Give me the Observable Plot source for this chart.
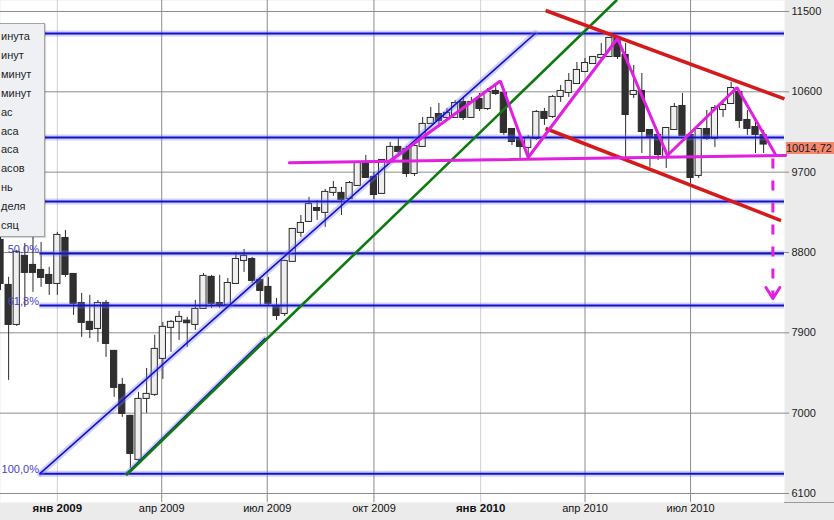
<!DOCTYPE html>
<html>
<head>
<meta charset="utf-8">
<script src="https://cdn.jsdelivr.net/npm/d3@7"></script>
<script src="https://cdn.jsdelivr.net/npm/@observablehq/plot@0.6"></script>
<style>
  body { margin: 0; background: #ffffff; }
  #wrap { position: relative; width: 834px; height: 520px; overflow: hidden; font-family: "Liberation Sans", Arial, sans-serif; }
  #wrap svg { display: block; }
  #menu { position: absolute; left: 0; top: 23px; width: 45px; height: 214px; box-sizing: border-box; padding-top: 3px; background: #eef0f4; border: 1px solid #a4a4a4; border-left: none; overflow: hidden; box-shadow: 1px 1px 1px rgba(0,0,0,0.15); }
  #menu div { white-space: nowrap; font-size: 11px; line-height: 18.9px; color: #1e1e1e; margin-left: 1px; }
  #last { position: absolute; left: 786px; width: 48px; height: 12px; background: #f4886f; font-size: 11px; line-height: 12px; color: #1a1a1a; white-space: nowrap; }
</style>
</head>
<body>
<div id="wrap"></div>
<script>
// ---------- data (weekly candles, first week starts Mon 2008-11-10) ----------
const firstWeek = "2008-11-10";
const opens  = [8935,8431,7994,8756,8655,8599,8543,8453,8957,8554,8229,8017,7949,8229,7692,7311,6964,6482,7165,7210,
                7613,7961,8028,8031,7994,8173,8521,8229,8218,8453,8711,8722,8487,8409,8196,8117,8700,9025,9148,9293,
                9249,9473,9462,9405,9551,9786,9641,9462,9831,9977,9954,9685,9988,10246,10346,10313,10313,10481,10313,10514,
                10413,10604,10581,10178,10066,9977,10078,10369,10324,10548,10593,10693,10828,10917,10985,10996,11198,11007,10570,10604,
                10167,10111,9865,10178,10436,10111,9663,10178,10078,10402,10469,10593,10279,10201,10111];
const highs  = [8980,8521,8823,8901,8969,8913,8633,9025,9047,8565,8341,8319,8263,8263,7703,7389,6975,7233,7501,7871,
                8017,8039,8140,8073,8263,8565,8543,8543,8509,8801,8834,8745,8509,8521,8285,8711,9069,9215,9417,9383,
                9506,9596,9529,9596,9820,9887,9697,9842,10033,10077,9988,10055,10313,10425,10469,10414,10503,10525,10537,10581,
                10637,10682,10615,10189,10089,10111,10391,10414,10559,10671,10805,10929,10973,10996,11142,11209,11220,11142,10895,10805,
                10167,10134,10201,10469,10581,10122,10189,10391,10447,10481,10705,10615,10391,10268,10167];
const lows   = [8375,7367,7972,8185,8353,8409,8319,8319,8521,8095,7849,7837,7793,7625,7177,6953,6381,6460,6997,7188,
                7378,7681,7815,7737,7927,8162,8173,8173,8207,8442,8577,8453,8207,8207,8039,8084,8689,8969,9137,9159,
                9081,9428,9215,9394,9540,9629,9394,9450,9820,9887,9641,9652,9977,10235,10201,10279,10302,10279,10302,10380,
                10391,10559,10111,9999,9854,9831,10055,10223,10302,10481,10537,10682,10817,10906,10962,10985,10962,9865,10525,9909,
                9753,9831,9741,10167,10100,9574,9629,10055,9977,10313,10458,10190,10111,9909,9909];
const closes = [8453,7994,8801,8577,8577,8521,8453,8991,8554,8229,8017,7938,8229,7781,7289,6997,6549,7154,7210,7714,
                7961,8017,8073,8013,8162,8532,8229,8218,8453,8722,8756,8487,8375,8229,8095,8700,9058,9125,9338,9271,
                9473,9517,9394,9573,9797,9641,9450,9831,9977,9932,9685,9988,10235,10302,10279,10358,10469,10313,10481,10413,
                10593,10581,10145,10044,9988,10078,10369,10302,10537,10604,10716,10839,10917,10985,11007,11198,10996,10346,10604,10156,
                10100,9898,10189,10425,10111,9641,10178,10078,10413,10447,10637,10279,10190,10122,10014.72];

const yTicks = [6100, 7000, 7900, 8800, 9700, 10600, 11500];
const xTickDates  = ["2009-01-01","2009-04-01","2009-07-01","2009-10-01","2010-01-01","2010-04-01","2010-07-01"];
const xTickLabels = ["янв 2009","апр 2009","июл 2009","окт 2009","янв 2010","апр 2010","июл 2010"];

const fibLevels = [11253, 10089, 9370, 8788, 8206, 6322];
const fibLabelLevels = [8788, 8206, 6322];
const fibLabels = ["50,0%", "61,8%", "100,0%"];
const fibStart = "2008-12-17";
const lastPrice = 10014.72;
const lastPriceLabel = "10014,72";

const blueChannel = [["2008-12-17", 6322], ["2010-02-17", 11253]];
const blueGuide   = [["2009-03-02", 6330], ["2009-06-29", 7837]];
const greenTrend  = [["2009-03-02", 6313], ["2010-04-28", 11623]];
const redUpper    = [["2010-02-26", 11511], ["2010-09-20", 10520]];
const redLower    = [["2010-02-26", 10189], ["2010-09-17", 9158]];
const neckline    = [["2009-07-20", 9805], ["2010-09-21", 9887]];
const zigzag      = [["2009-10-13", 9808], ["2010-01-18", 10721], ["2010-02-11", 9864], ["2010-04-29", 11197],
                     ["2010-06-11", 9887], ["2010-08-10", 10648], ["2010-09-12", 9904]];
const targetDash  = [["2010-09-10", 9853], ["2010-09-10", 8307]];
const arrowHead   = [["2010-09-04", 8408], ["2010-09-10", 8285], ["2010-09-16", 8408]];

// visible parts of the (left-clipped) timeframe menu
const timeframes = ["инута","инут","минут","минут","ас","аса","аса","асов","нь","деля","сяц"];

// ---------- build ----------
const P = d3.utcParse("%Y-%m-%d");
const w0 = P(firstWeek);
const candles = opens.map((o, i) => {
  const mid = d3.utcDay.offset(w0, 7 * i + 3);
  return { mid, left: d3.utcHour.offset(mid, -64), right: d3.utcHour.offset(mid, 64),
           open: o, high: highs[i], low: lows[i], close: closes[i], up: closes[i] >= o };
});
const pts = arr => arr.map(([d, v]) => ({ date: P(d), v }));
const xStart = P("2008-11-13"), xEnd = P("2010-09-20");
const xTickEnd = d3.utcHour.offset(xEnd, 105);
const xFar = P("2010-11-03");
const fibX1 = P(fibStart);
const ticks = xTickDates.map((d, i) => ({ date: P(d), label: xTickLabels[i], jan: d.slice(5, 7) === "01" }));

const blueHalo = { stroke: "#7a7aff", strokeWidth: 6, strokeOpacity: 0.35 };
const line = (arr, o) => Plot.line(pts(arr), { x: "date", y: "v", ...o });

const chart = Plot.plot({
  width: 834, height: 520,
  marginLeft: 0, marginRight: 50, marginTop: 0, marginBottom: 18,
  x: { type: "utc", domain: [xStart, xEnd], axis: null },
  y: { domain: [5999, 11623], axis: null },
  style: { background: "#ebebeb", fontFamily: "'Liberation Sans', Arial, sans-serif", fontSize: "11px", color: "#1a1a1a" },
  marks: [
    Plot.frame({ fill: "white", stroke: "none" }),
    // grid
    Plot.ruleX(ticks.filter(t => t.jan), { x: "date", stroke: "#d0d0d0" }),
    Plot.ruleX(ticks.filter(t => !t.jan), { x: "date", stroke: "#8c8c8c" }),
    Plot.ruleY(yTicks, { y: d => d, stroke: "#8c8c8c" }),
    Plot.ruleY(yTicks, { y: d => d, x1: () => xEnd, x2: () => xTickEnd, stroke: "#8c8c8c" }),
    Plot.ruleY([5999], { y: d => d, x1: () => xEnd, x2: () => xFar, stroke: "#9a9a9a" }),
    // candles
    Plot.ruleX(candles, { x: "mid", y1: "low", y2: "high", stroke: "#2a2a2a" }),
    Plot.rect(candles.filter(c => c.up), { x1: "left", x2: "right", y1: "open", y2: "close", fill: "#efefef", stroke: "#2a2a2a", insetTop: -0.5, insetBottom: -0.5 }),
    Plot.rect(candles.filter(c => !c.up), { x1: "left", x2: "right", y1: "open", y2: "close", fill: "#303030", stroke: "#2a2a2a", insetTop: -0.5, insetBottom: -0.5 }),
    // fibonacci levels
    Plot.ruleY(fibLevels, { y: d => d, x1: () => fibX1, x2: () => xEnd, stroke: "#7a7aff", strokeWidth: 6, strokeOpacity: 0.35 }),
    Plot.ruleY(fibLevels, { y: d => d, x1: () => fibX1, x2: () => xEnd, stroke: "#1212c4", strokeWidth: 2 }),
    Plot.text(fibLabelLevels, { x: () => fibX1, y: d => d, text: (d, i) => fibLabels[i], textAnchor: "end", dx: -1, dy: -4, fill: "#4444c4" }),
    // blue channel lines
    line(blueChannel, blueHalo),
    line(blueChannel, { stroke: "#1414c8", strokeWidth: 1.6 }),
    line(blueGuide, { ...blueHalo, strokeWidth: 5 }),
    line(blueGuide, { stroke: "#1414c8", strokeWidth: 1.3 }),
    // green trend
    line(greenTrend, { stroke: "#0f7a0f", strokeWidth: 2.6 }),
    // red channel
    line(redUpper, { stroke: "#d41a1a", strokeWidth: 3.5, strokeLinecap: "butt" }),
    line(redLower, { stroke: "#d41a1a", strokeWidth: 3.5, strokeLinecap: "butt" }),
    // magenta pattern
    line(neckline, { stroke: "#e01fe0", strokeWidth: 3 }),
    line(zigzag, { stroke: "#e01fe0", strokeWidth: 3, strokeLinejoin: "miter" }),
    line(targetDash, { stroke: "#e01fe0", strokeWidth: 3, strokeDasharray: "10,12", strokeLinecap: "butt" }),
    line(arrowHead, { stroke: "#e01fe0", strokeWidth: 3 }),
    // axis labels
    Plot.text(yTicks, { y: d => d, text: d => String(d), frameAnchor: "right", dx: 7, textAnchor: "start", fill: "#222" }),
    Plot.text(ticks.filter(t => t.jan), { x: "date", text: "label", frameAnchor: "bottom", dy: 9, fontWeight: "bold", fill: "#111", fontSize: 11.5 }),
    Plot.text(ticks.filter(t => !t.jan), { x: "date", text: "label", frameAnchor: "bottom", dy: 9, fill: "#111" })
  ]
});

const wrap = document.getElementById("wrap");
wrap.appendChild(chart);

const menu = document.createElement("div");
menu.id = "menu";
timeframes.forEach(t => { const d = document.createElement("div"); d.textContent = t; menu.appendChild(d); });
wrap.appendChild(menu);

const yPix = chart.scale("y").apply(lastPrice);
const last = document.createElement("div");
last.id = "last";
last.style.top = (yPix - 2) + "px";
last.textContent = lastPriceLabel;
wrap.appendChild(last);
</script>
</body>
</html>
